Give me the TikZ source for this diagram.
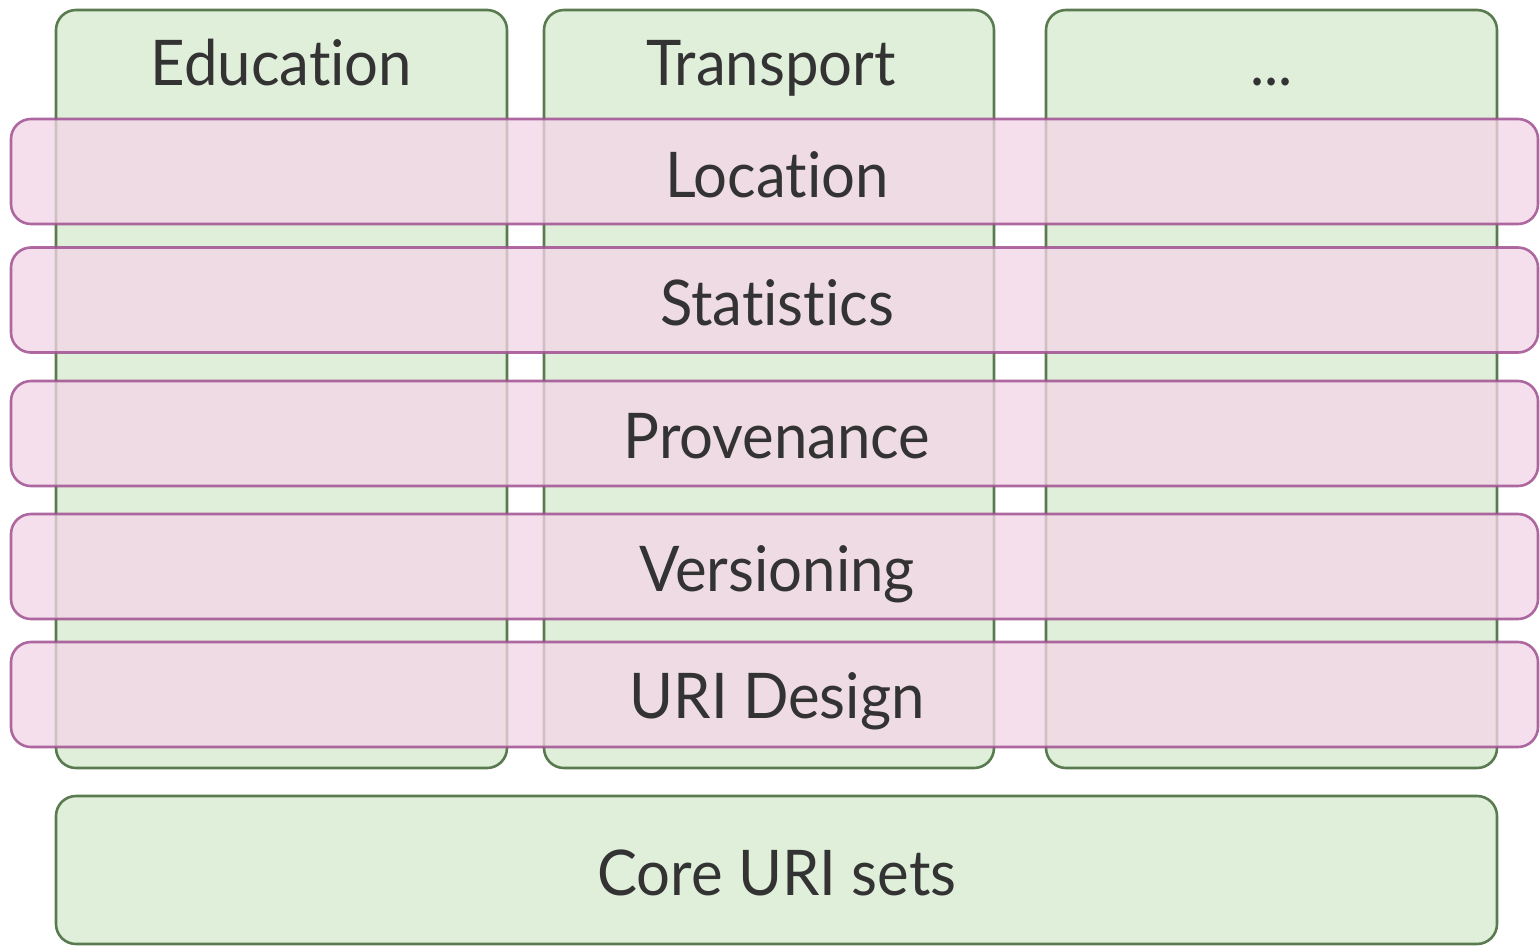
\documentclass[tikz,border=0pt]{standalone}
\usepackage{fontspec}
\setmainfont{Lato}[Ligatures=NoCommon, FakeStretch=0.95]
\definecolor{greenfill}{RGB}{224,239,218}
\definecolor{greenline}{RGB}{90,122,80}
\definecolor{pinkfill}{RGB}{243,214,230}
\definecolor{pinkline}{RGB}{160,80,145}
\definecolor{txt}{RGB}{51,51,51}
\tikzset{
  domainbox/.style={draw=greenline, fill=greenfill, line width=2.6pt, rounded corners=20pt,
    inner sep=0pt, outer sep=0pt},
  layerbox/.style={draw=pinkline, fill=pinkfill, line width=2.6pt, rounded corners=20pt,
    fill opacity=0.77, draw opacity=0.85, inner sep=0pt, outer sep=0pt,
    minimum width=1527pt, minimum height=105pt},
  lbl/.style={text=txt, font=\fontsize{63}{70}\selectfont, inner sep=0pt, text opacity=1},
}
\begin{document}
\begin{tikzpicture}[x=1pt,y=-1pt]
\useasboundingbox (0,0) rectangle (1540,946);

% vertical domain columns
\node[domainbox, minimum width=451pt, minimum height=758pt] (edu) at (281.5,389) {};
\node[domainbox, minimum width=450pt, minimum height=758pt] (trans) at (769,389) {};
\node[domainbox, minimum width=451pt, minimum height=758pt] (more) at (1271.5,389) {};
\node[lbl, anchor=base] (eduT) at (281.5,85) {Education};
\node[lbl, anchor=base] (transT) at (771,85) {Transport};
\node[lbl, anchor=base] (moreT) at (1271.5,85) {...};

% horizontal cross-cutting layers
\node[layerbox] (loc) at (774.5,171.5) {};
\node[layerbox] (stat) at (774.5,300) {};
\node[layerbox] (prov) at (774.5,433.5) {};
\node[layerbox] (vers) at (774.5,566.5) {};
\node[layerbox] (uri) at (774.5,694.5) {};
\node[lbl, anchor=base] (locT) at (777,197) {Location};
\node[lbl, anchor=base] (statT) at (777,325) {Statistics};
\node[lbl, anchor=base] (provT) at (777,458) {Provenance};
\node[lbl, anchor=base] (versT) at (777,591) {Versioning};
\node[lbl, anchor=base] (uriT) at (777,718) {URI Design};

% foundation
\node[domainbox, minimum width=1441pt, minimum height=148pt] (core) at (776.5,870) {};
\node[lbl, anchor=base] (coreT) at (777,895) {Core URI sets};
\end{tikzpicture}
\end{document}
